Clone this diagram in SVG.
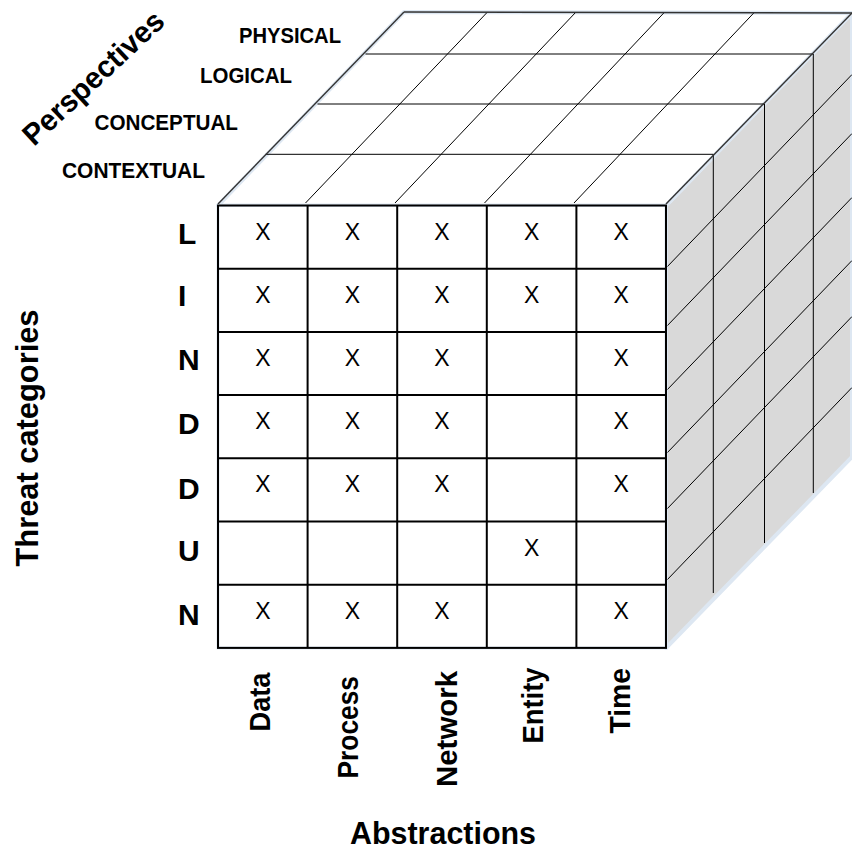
<svg xmlns="http://www.w3.org/2000/svg" width="852" height="851" viewBox="0 0 852 851">
<style>
.lbl{font-family:"Liberation Sans",Arial,sans-serif;font-weight:bold;fill:#000}
.xm{font-family:"Liberation Sans",Arial,sans-serif;font-size:23px;fill:#000;text-anchor:middle}
.thin{stroke:#000;stroke-width:1;fill:none}
.edge{stroke:#333;stroke-width:1.4;fill:none}
.grid{stroke:#000;stroke-width:2;fill:none}
.glow{stroke:#dde7f2;stroke-width:4;stroke-linejoin:round}
</style>
<rect width="852" height="851" fill="#fff"/>
<g id="cube">
  <polygon id="right-face" class="glow" points="666,205.5 852,13 852,457 666,648" fill="#d9d9d9"/>
  <polygon id="top-face" class="glow" points="218,205.5 666,205.5 852,13 404,12" fill="#fff"/>
  <g id="top-grid">
    <line class="thin" x1="365.5" y1="54" x2="813.3" y2="54"/>
    <line class="thin" x1="317.5" y1="104" x2="764.5" y2="104"/>
    <line class="thin" x1="265.7" y1="154.3" x2="713.3" y2="154.3"/>
    <line class="thin" x1="305.5" y1="203" x2="487.5" y2="12"/>
    <line class="thin" x1="395" y1="203" x2="576" y2="12"/>
    <line class="thin" x1="484.5" y1="203" x2="664.7" y2="12"/>
    <line class="thin" x1="574" y1="203" x2="754.7" y2="12"/>
  </g>
  <g id="right-grid">
    <line class="thin" x1="713.3" y1="154.3" x2="713.3" y2="593"/>
    <line class="thin" x1="764.5" y1="104" x2="764.5" y2="543"/>
    <line class="thin" x1="813.3" y1="54" x2="813.3" y2="493"/>
    <line class="thin" x1="666" y1="268" x2="852" y2="74.5"/>
    <line class="thin" x1="666" y1="327" x2="852" y2="133.5"/>
    <line class="thin" x1="666" y1="391" x2="852" y2="197.5"/>
    <line class="thin" x1="666" y1="454" x2="852" y2="260.5"/>
    <line class="thin" x1="666" y1="510" x2="852" y2="316.5"/>
    <line class="thin" x1="666" y1="581" x2="852" y2="387.5"/>
  </g>
  <g id="cube-edges">
    <line class="edge" x1="404" y1="12" x2="852" y2="13"/>
    <line class="edge" x1="218" y1="204" x2="404" y2="12"/>
    <line class="edge" x1="666" y1="204" x2="852" y2="13"/>
  </g>
  <g id="front-face">
    <rect x="218" y="205.5" width="448" height="442.4" fill="#fff" stroke="#dde7f2" stroke-width="3"/>
    <rect class="grid" x="218" y="205.5" width="448" height="442.4"/>
    <line class="grid" x1="307.6" y1="205.5" x2="307.6" y2="647.9"/>
    <line class="grid" x1="397.2" y1="205.5" x2="397.2" y2="647.9"/>
    <line class="grid" x1="486.8" y1="205.5" x2="486.8" y2="647.9"/>
    <line class="grid" x1="576.4" y1="205.5" x2="576.4" y2="647.9"/>
    <line class="grid" x1="218" y1="268.7" x2="666" y2="268.7"/>
    <line class="grid" x1="218" y1="331.9" x2="666" y2="331.9"/>
    <line class="grid" x1="218" y1="395.1" x2="666" y2="395.1"/>
    <line class="grid" x1="218" y1="458.3" x2="666" y2="458.3"/>
    <line class="grid" x1="218" y1="521.5" x2="666" y2="521.5"/>
    <line class="grid" x1="218" y1="584.7" x2="666" y2="584.7"/>
  </g>
</g>
<g id="marks">
  <text class="xm" x="262.8" y="239.5">X</text><text class="xm" x="352.4" y="239.5">X</text><text class="xm" x="442" y="239.5">X</text><text class="xm" x="531.6" y="239.5">X</text><text class="xm" x="621.2" y="239.5">X</text>
  <text class="xm" x="262.8" y="302.7">X</text><text class="xm" x="352.4" y="302.7">X</text><text class="xm" x="442" y="302.7">X</text><text class="xm" x="531.6" y="302.7">X</text><text class="xm" x="621.2" y="302.7">X</text>
  <text class="xm" x="262.8" y="365.9">X</text><text class="xm" x="352.4" y="365.9">X</text><text class="xm" x="442" y="365.9">X</text><text class="xm" x="621.2" y="365.9">X</text>
  <text class="xm" x="262.8" y="429.1">X</text><text class="xm" x="352.4" y="429.1">X</text><text class="xm" x="442" y="429.1">X</text><text class="xm" x="621.2" y="429.1">X</text>
  <text class="xm" x="262.8" y="492.3">X</text><text class="xm" x="352.4" y="492.3">X</text><text class="xm" x="442" y="492.3">X</text><text class="xm" x="621.2" y="492.3">X</text>
  <text class="xm" x="531.6" y="555.5">X</text>
  <text class="xm" x="262.8" y="618.7">X</text><text class="xm" x="352.4" y="618.7">X</text><text class="xm" x="442" y="618.7">X</text><text class="xm" x="621.2" y="618.7">X</text>
</g>
<g id="row-labels" class="lbl" font-size="30">
  <text x="178" y="244">L</text>
  <text x="178" y="306">I</text>
  <text x="178" y="369.5">N</text>
  <text x="178" y="434">D</text>
  <text x="178" y="499">D</text>
  <text x="178" y="561">U</text>
  <text x="178" y="625">N</text>
</g>
<g id="perspective-labels" class="lbl" font-size="22">
  <text x="239" y="42.7" textLength="102" lengthAdjust="spacingAndGlyphs">PHYSICAL</text>
  <text x="200" y="82.7" textLength="92" lengthAdjust="spacingAndGlyphs">LOGICAL</text>
  <text x="94.5" y="130" textLength="143.5" lengthAdjust="spacingAndGlyphs">CONCEPTUAL</text>
  <text x="62" y="177.7" textLength="143" lengthAdjust="spacingAndGlyphs">CONTEXTUAL</text>
</g>
<g id="column-labels" class="lbl" font-size="30">
  <text transform="translate(270,731.5) rotate(-90)" textLength="59" lengthAdjust="spacingAndGlyphs">Data</text>
  <text transform="translate(358.3,778.5) rotate(-90)" textLength="102.5" lengthAdjust="spacingAndGlyphs">Process</text>
  <text transform="translate(456.7,787) rotate(-90)" textLength="116" lengthAdjust="spacingAndGlyphs">Network</text>
  <text transform="translate(542.5,743.5) rotate(-90)" textLength="76" lengthAdjust="spacingAndGlyphs">Entity</text>
  <text transform="translate(630,733.5) rotate(-90)" textLength="65.5" lengthAdjust="spacingAndGlyphs">Time</text>
</g>
<g id="axis-titles" class="lbl" font-size="31">
  <text transform="translate(34,147) rotate(-43)" font-size="30" textLength="181" lengthAdjust="spacingAndGlyphs">Perspectives</text>
  <text transform="translate(37.5,566.5) rotate(-90)" textLength="257" lengthAdjust="spacingAndGlyphs">Threat categories</text>
  <text x="350" y="844" textLength="186" lengthAdjust="spacingAndGlyphs">Abstractions</text>
</g>
</svg>
